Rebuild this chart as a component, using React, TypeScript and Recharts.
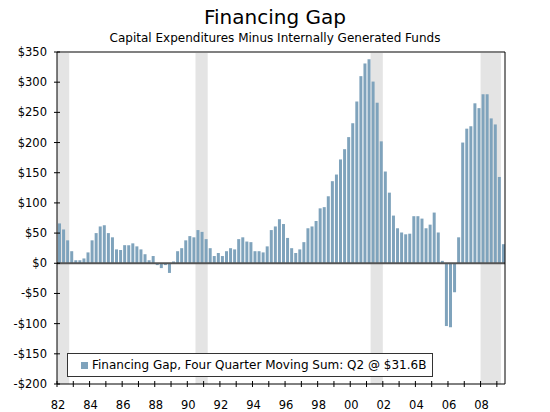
import { BarChart, Bar, XAxis, YAxis, ReferenceArea, ReferenceLine } from 'recharts';

const startYear = 1982;

// quarterly financing gap, $ billions, four quarter moving sum
const gap1980s = [
    66, 56, 38, 20, 5, 5, 8, 18, 38, 50, 61, 63, 50, 43, 23, 22,
    30, 30, 33, 28, 23, 15, 5, 12, -3, -8, -3, -16, 3, 20, 25, 38,
];
const gap1990s = [
    45, 43, 55, 52, 40, 25, 12, 17, 12, 20, 25, 23, 40, 43, 36, 35,
    20, 20, 18, 28, 55, 61, 73, 65, 42, 25, 17, 23, 35, 58, 61, 70,
    91, 93, 111, 136, 147, 172, 189, 209,
];
const gap2000s = [
    232, 268, 310, 331, 338, 301, 266, 202, 152, 117, 79, 58, 51, 48, 49, 78,
    78, 74, 58, 64, 84, 51, 4, -104, -106, -48, 43, 200, 223, 227, 265, 257,
    280, 280, 240, 230, 143, 31.6,
];

const yTicks = [-200, -150, -100, -50, 0, 50, 100, 150, 200, 250, 300, 350];
const xTicks = [
    1982, 1983, 1984, 1985, 1986, 1987, 1988, 1989, 1990, 1991, 1992, 1993, 1994, 1995,
    1996, 1997, 1998, 1999, 2000, 2001, 2002, 2003, 2004, 2005, 2006, 2007, 2008, 2009,
];
const recessions = [
    { start: 1982, end: 1982.75 },
    { start: 1990.5, end: 1991.25 },
    { start: 2001.25, end: 2002 },
    { start: 2008, end: 2009.25 },
];

const data = [...gap1980s, ...gap1990s, ...gap2000s].map((gap, i) => ({
    x: startYear + (i + 0.5) / 4,
    gap,
}));

const BAR_COLOR = '#7fa3bc';
const FONT = '"DejaVu Sans", Verdana, sans-serif';
const LEGEND_LABEL = 'Financing Gap, Four Quarter Moving Sum: Q2 @ $31.6B';

const money = (v: number) => (v < 0 ? `-$${-v}` : `$${v}`);

const XTick = (props: any) => {
    const { x, y, payload } = props;
    const yr = payload.value;
    return (
        <g>
            <line x1={x} x2={x} y1={y - 3} y2={y + 3} stroke="#000" />
            {yr % 2 === 0 && (
                <text x={x + 1} y={y + 25} textAnchor="middle" fontSize={11.5} fontFamily={FONT} fill="#000">
                    {String(yr % 100).padStart(2, '0')}
                </text>
            )}
        </g>
    );
};

const LeftTick = (props: any) => {
    const { x, y, payload } = props;
    return (
        <g>
            <line x1={x - 3} x2={x + 3} y1={y} y2={y} stroke="#000" />
            <text x={x - 10} y={y} dy="0.35em" textAnchor="end" fontSize={11.5} fontFamily={FONT} fill="#000">
                {money(payload.value)}
            </text>
        </g>
    );
};

const RightTick = (props: any) => {
    const { x, y, payload } = props;
    return (
        <g>
            <line x1={x - 3} x2={x + 3} y1={y} y2={y} stroke="#000" />
            <text x={x + 7} y={y} dy="0.35em" textAnchor="start" fontSize={11.5} fontFamily={FONT} fill="#000">
                {money(payload.value)}
            </text>
        </g>
    );
};

const App = () => (
    <div style={{ position: 'absolute', left: 0, top: 0, width: 550, height: 412, background: '#fff', overflow: 'hidden' }}>
        <div style={{ position: 'absolute', top: 5, width: 550, textAlign: 'center', fontFamily: FONT, fontSize: 20, color: '#000' }}>
            Financing Gap
        </div>
        <div style={{ position: 'absolute', top: 31, width: 550, textAlign: 'center', fontFamily: FONT, fontSize: 12, color: '#000' }}>
            Capital Expenditures Minus Internally Generated Funds
        </div>
        <BarChart width={550} height={412} data={data} margin={{ top: 52, right: 0, bottom: 0, left: 0 }}>
            {recessions.map(r => (
                <ReferenceArea key={r.start} x1={r.start} x2={r.end} yAxisId="left" fill="#e4e4e4" fillOpacity={1} stroke="none" />
            ))}
            <ReferenceLine y={350} yAxisId="left" stroke="#808080" strokeWidth={2} />
            <XAxis
                dataKey="x"
                type="number"
                domain={[1982, 2009.5]}
                ticks={xTicks}
                interval={0}
                height={28}
                tickSize={0}
                tickMargin={0}
                tick={<XTick />}
                axisLine={{ stroke: '#000' }}
                allowDataOverflow
            />
            <YAxis
                yAxisId="left"
                domain={[-200, 350]}
                ticks={yTicks}
                interval={0}
                width={57}
                tickSize={0}
                tickMargin={0}
                tick={<LeftTick />}
                axisLine={{ stroke: '#000' }}
            />
            <YAxis
                yAxisId="right"
                orientation="right"
                domain={[-200, 350]}
                ticks={yTicks}
                interval={0}
                width={45}
                tickSize={0}
                tickMargin={0}
                tick={<RightTick />}
                axisLine={{ stroke: '#000' }}
            />
            <Bar
                dataKey="gap"
                yAxisId="left"
                name={LEGEND_LABEL}
                fill={BAR_COLOR}
                barSize={3}
                isAnimationActive={false}
            />
            <ReferenceLine y={0} yAxisId="left" stroke="#555" strokeWidth={2} />
        </BarChart>
        <div style={{
            position: 'absolute', left: 67, top: 353, width: 366, height: 24, boxSizing: 'border-box',
            border: '1px solid #333', background: '#fff', display: 'flex', alignItems: 'center',
            paddingLeft: 13, fontFamily: FONT, fontSize: 12, color: '#000', whiteSpace: 'nowrap',
        }}>
            <span style={{ width: 7, height: 7, background: BAR_COLOR, marginRight: 4, display: 'inline-block' }} />
            {LEGEND_LABEL}
        </div>
    </div>
);

export default App;
